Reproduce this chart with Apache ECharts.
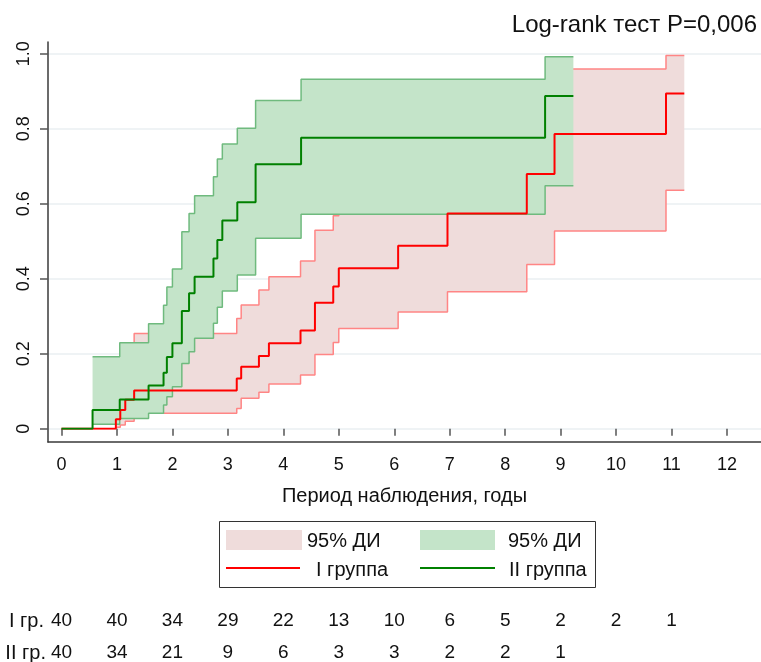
<!DOCTYPE html>
<html><head><meta charset="utf-8">
<script src="https://cdn.jsdelivr.net/npm/echarts@6/dist/echarts.min.js"></script>
<style>html,body{margin:0;padding:0;background:#fff}#c{width:761px;height:662px}</style>
</head><body><div id="c"></div>
<script>
// ---- data ----
const titleText = 'Log-rank тест P=0,006';
const xName = 'Период наблюдения, годы';
const xTicks = [0,1,2,3,4,5,6,7,8,9,10,11,12];
const yTickStep = 0.2;

// I группа (red)
const g1Times = [0.98,1.06,1.15,1.31,3.16,3.24,3.56,3.74,4.31,4.57,4.90,5.00,6.07,6.96,8.39,8.89,10.90];
const g1Est   = [0.025,0.050,0.077,0.102,0.134,0.165,0.194,0.228,0.262,0.336,0.379,0.428,0.488,0.574,0.679,0.786,0.894];
const g1Upper = [0.160,0.190,0.220,0.254,0.294,0.330,0.370,0.405,0.447,0.529,0.568,0.610,0.660,0.750,0.860,0.959,0.995];
const g1Lower = [0.004,0.010,0.020,0.041,0.054,0.081,0.097,0.119,0.143,0.198,0.230,0.267,0.311,0.365,0.438,0.527,0.636];
const g1End = 11.23;

// II группа (green)
const g2Times = [0.56,1.05,1.57,1.84,1.90,2.00,2.17,2.30,2.40,2.74,2.81,2.90,3.17,3.50,4.32,8.72];
const g2Est   = [0.050,0.078,0.115,0.149,0.191,0.228,0.314,0.361,0.405,0.454,0.503,0.555,0.604,0.705,0.776,0.887];
const g2Upper = [0.192,0.229,0.280,0.329,0.378,0.426,0.525,0.574,0.621,0.672,0.719,0.759,0.801,0.875,0.932,0.992];
const g2Lower = [0.012,0.027,0.041,0.063,0.085,0.112,0.174,0.205,0.241,0.281,0.324,0.367,0.410,0.508,0.572,0.648];
const g2End = 9.23;

// numbers at risk
const riskTimes = [0,1,2,3,4,5,6,7,8,9,10,11];
const risk1 = [40,40,34,29,22,13,10,6,5,2,2,1];
const risk2 = [40,34,21,9,6,3,3,2,2,1];
const rowLabels = ['I гр.', 'II гр.'];
const legendLabels = ['95% ДИ', '95% ДИ', 'I группа', 'II группа'];

// ---- helpers ----
function steps(times, vals, end) {
  const d = times.map((t, i) => [t, vals[i]]);
  d.push([end, vals[vals.length - 1]]);
  return d;
}
function bandSeries(times, lower, upper, end, fill, z) {
  return {
    type: 'custom', xAxisIndex: 2, yAxisIndex: 2, z: z, silent: true,
    data: [[times[0], lower[0]]],
    renderItem: function (params, api) {
      const ts = times.concat([end]);
      const pts = [];
      for (let i = 0; i < upper.length; i++) {
        pts.push(api.coord([ts[i], upper[i]]));
        pts.push(api.coord([ts[i + 1], upper[i]]));
      }
      for (let i = lower.length - 1; i >= 0; i--) {
        pts.push(api.coord([ts[i + 1], lower[i]]));
        pts.push(api.coord([ts[i], lower[i]]));
      }
      return {type: 'polygon', shape: {points: pts}, style: {fill: fill, stroke: null}};
    }
  };
}
function stepLine(data, color, width, z) {
  return {type: 'line', xAxisIndex: 2, yAxisIndex: 2, step: 'end', symbol: 'none', silent: true,
    lineStyle: {color: color, width: width}, data: data, z: z};
}
function riskRow(values, axisIdx) {
  return {type: 'custom', xAxisIndex: axisIdx, yAxisIndex: axisIdx, silent: true,
    data: values.map((n, i) => [riskTimes[i], 0, n]),
    renderItem: function (params, api) {
      const p = api.coord([api.value(0), api.value(1)]);
      return {type: 'text', x: p[0], y: p[1],
        style: {text: String(api.value(2)), font: '19px ' + FONT, fill: TXT, textAlign: 'center', textVerticalAlign: 'middle'}};
    }
  };
}

const FONT = '"Liberation Sans", Arial, sans-serif';
const TXT = '#111';
const AX = '#3a3a3a';
const pinkFill = '#efdcdb', pinkLine = '#ff8585';
const greenFill = '#c4e4c9', greenLine = '#6fba7e';
const red = '#ff0000', green = '#008000';

const chart = echarts.init(document.getElementById('c'), null, {renderer: 'canvas'});

const plotL = 61.5, plotW = 665.5, plotT = 53.7, plotH = 375;

const option = {
  animation: false,
  backgroundColor: '#fff',
  grid: [
    {left: 48, right: 0, top: 42, height: 400},
    {left: 48, right: 0, top: plotT, height: plotH},
    {left: plotL, width: plotW, top: plotT, height: plotH},
    {left: plotL, width: plotW, top: 611, height: 20},
    {left: plotL, width: plotW, top: 643, height: 20}
  ],
  xAxis: [
    {gridIndex: 0, type: 'value', min: 0, max: 1, axisLine: {show: true, lineStyle: {color: AX, width: 1.5}}, axisTick: {show: false}, axisLabel: {show: false}, splitLine: {show: false},
      name: xName, nameLocation: 'middle', nameGap: 44,
      nameTextStyle: {fontSize: 20, color: TXT, fontFamily: FONT}},
    {gridIndex: 1, type: 'value', min: 0, max: 1, show: false},
    {gridIndex: 2, type: 'value', min: xTicks[0], max: xTicks[xTicks.length - 1], interval: 1, offset: 13.3,
      axisLine: {show: false},
      axisTick: {show: true, length: 7, inside: false, lineStyle: {color: '#555', width: 1.5}},
      axisLabel: {show: true, margin: 14, fontSize: 18, color: TXT, fontFamily: FONT},
      splitLine: {show: false}
    },
    {gridIndex: 3, type: 'value', min: 0, max: 12, show: false},
    {gridIndex: 4, type: 'value', min: 0, max: 12, show: false}
  ],
  yAxis: [
    {gridIndex: 0, type: 'value', min: 0, max: 1, axisLine: {show: true, lineStyle: {color: AX, width: 1.5}}, axisTick: {show: false}, axisLabel: {show: false}, splitLine: {show: false}},
    {gridIndex: 1, type: 'value', min: 0, max: 1, interval: yTickStep,
      axisLine: {show: false},
      axisTick: {show: true, length: 8, inside: false, lineStyle: {color: '#555', width: 1.5}},
      axisLabel: {show: true, rotate: 90, margin: 15, fontSize: 18, color: TXT, fontFamily: FONT,
        formatter: v => (v === 0 ? '0' : v.toFixed(1))},
      splitLine: {show: true, lineStyle: {color: '#eaeff2', width: 1.5}}
    },
    {gridIndex: 2, type: 'value', min: 0, max: 1, show: false},
    {gridIndex: 3, type: 'value', min: -1, max: 1, show: false},
    {gridIndex: 4, type: 'value', min: -1, max: 1, show: false}
  ],
  series: [
    bandSeries(g1Times, g1Lower, g1Upper, g1End, pinkFill, 1),
    stepLine(steps(g1Times, g1Upper, g1End), pinkLine, 1.5, 2),
    stepLine(steps(g1Times, g1Lower, g1End), pinkLine, 1.5, 2),
    bandSeries(g2Times, g2Lower, g2Upper, g2End, greenFill, 3),
    stepLine(steps(g2Times, g2Upper, g2End), greenLine, 1.5, 4),
    stepLine(steps(g2Times, g2Lower, g2End), greenLine, 1.5, 4),
    stepLine([[0, 0]].concat(steps(g1Times, g1Est, g1End)), red, 2, 5),
    stepLine([[0, 0]].concat(steps(g2Times, g2Est, g2End)), green, 2, 6),
    riskRow(risk1, 3),
    riskRow(risk2, 4)
  ],
  graphic: [
    {type: 'text', right: 4, top: 13, style: {text: titleText, font: '24px ' + FONT, fill: TXT}},
    {type: 'rect', shape: {x: 219.5, y: 521.5, width: 376, height: 66}, style: {fill: '#fff', stroke: '#333', lineWidth: 1}},
    {type: 'rect', shape: {x: 226, y: 530, width: 76, height: 20}, style: {fill: pinkFill}},
    {type: 'rect', shape: {x: 420, y: 530, width: 75, height: 20}, style: {fill: greenFill}},
    {type: 'line', shape: {x1: 226, y1: 568, x2: 300, y2: 568}, style: {stroke: red, lineWidth: 2}},
    {type: 'line', shape: {x1: 420, y1: 568, x2: 495, y2: 568}, style: {stroke: green, lineWidth: 2}},
    {type: 'text', x: 307, y: 541, style: {text: legendLabels[0], font: '20px ' + FONT, fill: TXT, textVerticalAlign: 'middle'}},
    {type: 'text', x: 508, y: 541, style: {text: legendLabels[1], font: '20px ' + FONT, fill: TXT, textVerticalAlign: 'middle'}},
    {type: 'text', x: 316, y: 570, style: {text: legendLabels[2], font: '20px ' + FONT, fill: TXT, textVerticalAlign: 'middle'}},
    {type: 'text', x: 509, y: 570, style: {text: legendLabels[3], font: '20px ' + FONT, fill: TXT, textVerticalAlign: 'middle'}},
    {type: 'text', x: 44, y: 621, style: {text: rowLabels[0], font: '20px ' + FONT, fill: TXT, textAlign: 'right', textVerticalAlign: 'middle'}},
    {type: 'text', x: 46, y: 653, style: {text: rowLabels[1], font: '20px ' + FONT, fill: TXT, textAlign: 'right', textVerticalAlign: 'middle'}}
  ]
};
chart.setOption(option);
</script>
</body></html>
